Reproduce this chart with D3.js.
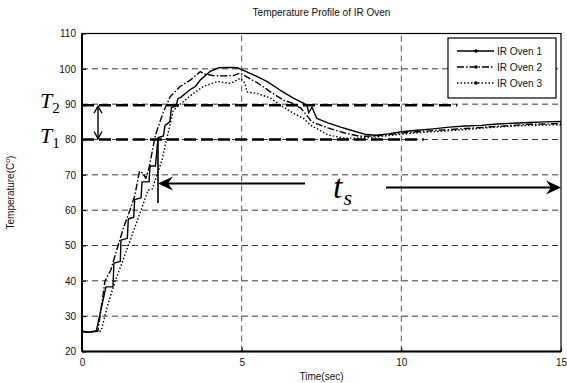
<!DOCTYPE html>
<html><head><meta charset="utf-8">
<script src="https://cdn.jsdelivr.net/npm/d3@7"></script>
<style>body{margin:0;background:#fff}svg{display:block}</style>
</head><body>
<svg id="c" width="567" height="383"></svg>
<script>
// ---- data ----
const seriesNames = ["IR Oven 1", "IR Oven 2", "IR Oven 3"];
const xTicks = [0, 5, 10, 15];
const yTicks = [20, 30, 40, 50, 60, 70, 80, 90, 100, 110];

const oven1Time = [0,0.2,0.45,0.75,0.97,1.0,1.2,1.22,1.42,1.45,1.62,1.65,1.85,1.88,2.1,2.13,2.3,2.38,2.55,2.6,2.75,2.8,2.95,3.0,3.1,3.4,3.55,3.7,4.0,4.27,4.6,4.86,5.0,5.37,5.8,6.2,6.62,6.93,7.05,7.1,7.2,7.35,7.7,8.1,8.4,8.9,9.2,9.6,10,10.5,11,11.5,12,12.5,13,13.5,14,14.5,15];
const oven1Temp = [25.8,25.5,25.9,38.3,38.3,45,45.5,51.5,52,57.5,58,63,63.5,68,68,72.5,72.5,80.5,81,84,85,89,89.5,91.5,92,94.2,95,96.8,99.2,100.3,100.4,100.3,99.8,98.3,96.4,94,91.7,90.3,89.5,87.5,89.2,86,84.7,83.5,82.7,81.4,81.2,81.6,82.2,82.6,83,83.5,83.8,84,84.4,84.6,84.8,85,85.1];

const oven2Time = [0,0.3,0.5,0.72,0.9,1.13,1.3,1.5,1.65,1.8,1.9,2.0,2.1,2.3,2.55,2.76,3.07,3.39,3.7,3.85,4.1,4.4,4.74,4.96,5.05,5.5,5.9,6.3,6.6,6.85,7.2,7.7,8.2,8.7,9.2,9.6,10,10.5,11,11.5,12,12.5,13,13.5,14,14.5,15];
const oven2Temp = [25.6,25.4,25.8,40,43,50,55,60,64,71,70.5,69,72,81.3,87.8,92.1,95,96.8,99.2,98.5,98.1,98,98.1,98.8,98.3,96,93.5,91.2,90.2,88.9,85,83.3,81.9,80.9,81,81.4,81.8,82.2,82.5,82.8,83.1,83.4,83.7,84,84.3,84.4,84.5];

const oven3Time = [0,0.3,0.6,0.8,1.04,1.25,1.45,1.65,1.85,2.07,2.2,2.35,2.5,2.65,2.86,3.17,3.48,3.8,4.24,4.65,4.96,5.1,5.17,5.3,5.5,5.9,6.2,6.53,6.93,7.15,7.7,8.2,8.7,9.2,9.6,10,10.5,11,11.5,12,12.5,13,13.5,14,14.5,15];
const oven3Temp = [25.6,25.5,25.8,33,40,45,50,55,60,65.7,66,70,74,80,88.3,90.7,93,95,96.4,95.9,97.3,96,93.5,93.3,93,91.7,89.8,87.9,86,84.1,81.3,80.4,80.4,80.7,81.1,81.5,81.9,82.2,82.5,82.8,83.2,83.5,83.8,84,84.1,84.2];

const T1 = 80, T2 = 89.7;
const tsStart = 2.38;

// ---- layout ----
const svg = d3.select("#c");
const m = {l: 82, r: 6, t: 33.5, b: 31.5};
const W = 567, H = 383;
const x = d3.scaleLinear().domain([0, 15]).range([m.l, W - m.r]);
const y = d3.scaleLinear().domain([20, 110]).range([H - m.b, m.t]);
const font = "Arial, 'Liberation Sans', sans-serif";

// grid
const g = svg.append("g");
g.selectAll(".hg").data(yTicks.slice(1, -1)).enter().append("line")
  .attr("x1", x(0)).attr("x2", x(15)).attr("y1", d => y(d)).attr("y2", d => y(d))
  .attr("stroke", "#222").attr("stroke-width", 0.9).attr("stroke-dasharray", "6,4");
g.selectAll(".vg").data(xTicks.slice(1, -1)).enter().append("line")
  .attr("y1", y(20)).attr("y2", y(110)).attr("x1", d => x(d)).attr("x2", d => x(d))
  .attr("stroke", "#444").attr("stroke-width", 0.9).attr("stroke-dasharray", "6,4");

// axes
const xa = svg.append("g").attr("transform", `translate(0,${y(20)})`)
  .call(d3.axisBottom(x).tickValues(xTicks).tickSize(-4).tickPadding(7).tickFormat(d3.format("d")));
const ya = svg.append("g").attr("transform", `translate(${x(0)},0)`)
  .call(d3.axisLeft(y).tickValues(yTicks).tickSize(-4).tickPadding(6).tickFormat(d3.format("d")));
[xa, ya].forEach(a => {
  a.select(".domain").remove();
  a.selectAll("text").attr("font-family", font).attr("font-size", 10).attr("fill", "#111");
  a.selectAll("line").attr("stroke", "#000");
});
// frame
svg.append("rect").attr("x", x(0)).attr("y", y(110)).attr("width", x(15) - x(0)).attr("height", y(20) - y(110))
  .attr("fill", "none").attr("stroke", "#000").attr("stroke-width", 1.2);
svg.append("line").attr("x1", x(0)).attr("x2", x(0)).attr("y1", y(110)).attr("y2", y(20)).attr("stroke", "#000").attr("stroke-width", 2);
svg.append("line").attr("x1", x(0)).attr("x2", x(15)).attr("y1", y(20)).attr("y2", y(20)).attr("stroke", "#000").attr("stroke-width", 2);

// threshold lines
svg.append("line").attr("x1", x(0)).attr("x2", x(11.75)).attr("y1", y(T2)).attr("y2", y(T2))
  .attr("stroke", "#000").attr("stroke-width", 2.4).attr("stroke-dasharray", "12,5");
svg.append("line").attr("x1", x(0)).attr("x2", x(10.7)).attr("y1", y(T1)).attr("y2", y(T1))
  .attr("stroke", "#000").attr("stroke-width", 2.4).attr("stroke-dasharray", "12,5");

// series
const styles = ["none", "7,2,1.5,2", "1.5,2"];
const series = [
  oven1Time.map((t, i) => [t, oven1Temp[i]]),
  oven2Time.map((t, i) => [t, oven2Temp[i]]),
  oven3Time.map((t, i) => [t, oven3Temp[i]])
];
const line = d3.line().x(d => x(d[0])).y(d => y(d[1]));
series.forEach((s, i) => {
  svg.append("path").attr("d", line(s)).attr("fill", "none").attr("stroke", "#000")
    .attr("stroke-width", 1.4).attr("stroke-dasharray", styles[i]).attr("stroke-linejoin", "round");
});

// annotations: double arrow between T1 and T2
const ax = 98;
svg.append("line").attr("x1", ax).attr("x2", ax).attr("y1", y(T2) + 1).attr("y2", y(T1) - 1).attr("stroke", "#000").attr("stroke-width", 1.4);
svg.append("path").attr("d", `M${ax-4},${y(T2)+8}L${ax},${y(T2)+1}L${ax+4},${y(T2)+8}`).attr("fill", "none").attr("stroke", "#000").attr("stroke-width", 1.4);
svg.append("path").attr("d", `M${ax-4},${y(T1)-8}L${ax},${y(T1)-1}L${ax+4},${y(T1)-8}`).attr("fill", "none").attr("stroke", "#000").attr("stroke-width", 1.4);

// t_s marker
const xs = x(tsStart);
svg.append("line").attr("x1", xs).attr("x2", xs).attr("y1", y(T1)).attr("y2", y(62)).attr("stroke", "#000").attr("stroke-width", 1.6);
const ayL = 183.5, ayR = 187.5;
svg.append("line").attr("x1", xs + 6).attr("x2", 305).attr("y1", ayL).attr("y2", ayL).attr("stroke", "#000").attr("stroke-width", 1.8);
svg.append("path").attr("d", `M${xs},${ayL}L${xs+15},${ayL-7}L${xs+10},${ayL}L${xs+15},${ayL+7}Z`).attr("fill", "#000");
svg.append("line").attr("x1", 386).attr("x2", x(15) - 6).attr("y1", ayR).attr("y2", ayR).attr("stroke", "#000").attr("stroke-width", 1.8);
svg.append("path").attr("d", `M${x(15)},${ayR}L${x(15)-15},${ayR-7}L${x(15)-10},${ayR}L${x(15)-15},${ayR+7}Z`).attr("fill", "#000");

const serif = "'Liberation Serif', 'Times New Roman', serif";
const ts = svg.append("text").attr("x", 333).attr("y", 198).attr("font-family", serif).attr("font-style", "italic")
  .attr("font-size", 34).attr("fill", "#000");
ts.append("tspan").text("t");
ts.append("tspan").attr("font-size", 22).attr("dy", 7).attr("dx", 1).text("s");

const t2 = svg.append("text").attr("x", 40).attr("y", 108).attr("font-family", serif).attr("font-style", "italic")
  .attr("font-size", 22).attr("fill", "#000");
t2.append("tspan").text("T");
t2.append("tspan").attr("font-size", 15).attr("dy", 5).attr("font-style", "normal").text("2");
const t1 = svg.append("text").attr("x", 40).attr("y", 143).attr("font-family", serif).attr("font-style", "italic")
  .attr("font-size", 22).attr("fill", "#000");
t1.append("tspan").text("T");
t1.append("tspan").attr("font-size", 15).attr("dy", 5).attr("font-style", "normal").text("1");

// titles
svg.append("text").attr("x", (x(0) + x(15)) / 2).attr("y", 16).attr("text-anchor", "middle")
  .attr("font-family", font).attr("font-size", 10).attr("fill", "#111").text("Temperature Profile of IR Oven");
svg.append("text").attr("x", (x(0) + x(15)) / 2).attr("y", 380).attr("text-anchor", "middle")
  .attr("font-family", font).attr("font-size", 10).attr("fill", "#111").text("Time(sec)");
const yl = svg.append("text").attr("transform", `translate(14,${(y(20) + y(110)) / 2}) rotate(-90)`).attr("text-anchor", "middle")
  .attr("font-family", font).attr("font-size", 10).attr("fill", "#111");
yl.append("tspan").text("Temperature(C");
yl.append("tspan").attr("font-size", 7).attr("dy", -4).text("o");
yl.append("tspan").attr("dy", 4).text(")");

// legend
const lg = svg.append("g");
lg.append("rect").attr("x", 448).attr("y", 38).attr("width", 108).attr("height", 60)
  .attr("fill", "#fff").attr("stroke", "#000").attr("stroke-width", 1.2);
const rowsY = [51, 67, 83];
seriesNames.forEach((n, i) => {
  lg.append("line").attr("x1", 457).attr("x2", 494).attr("y1", rowsY[i]).attr("y2", rowsY[i])
    .attr("stroke", "#000").attr("stroke-width", 1.3).attr("stroke-dasharray", styles[i]);
  lg.append("circle").attr("cx", 476).attr("cy", rowsY[i]).attr("r", 1.8).attr("fill", "#000");
  lg.append("text").attr("x", 497).attr("y", rowsY[i] + 3.5).attr("font-family", font).attr("font-size", 10)
    .attr("fill", "#111").text(n);
});
</script>
</body></html>
